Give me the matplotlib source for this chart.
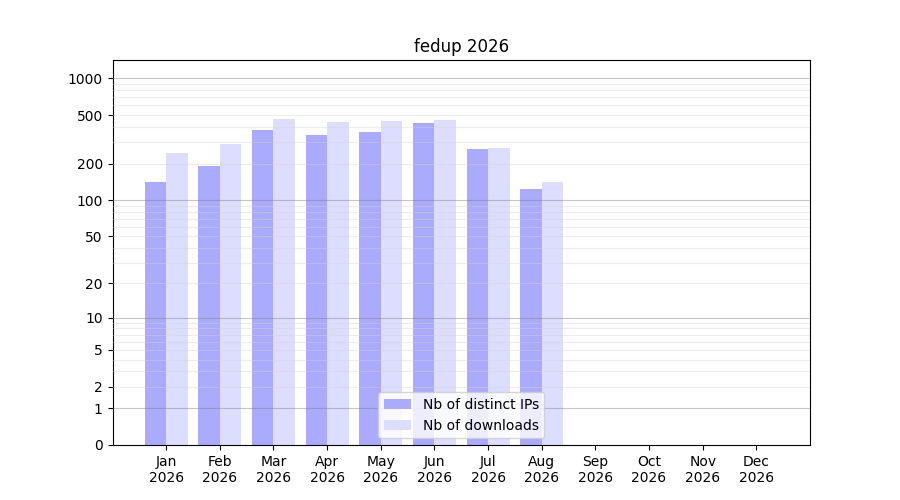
import numpy as np
import matplotlib
matplotlib.use("Agg")
import matplotlib.pyplot as plt

months = ["Jan", "Feb", "Mar", "Apr", "May", "Jun",
          "Jul", "Aug", "Sep", "Oct", "Nov", "Dec"]
year = "2026"
ips = [141, 191, 377, 343, 363, 431, 263, 123, 0, 0, 0, 0]
downloads = [244, 290, 465, 438, 447, 456, 268, 141, 0, 0, 0, 0]
yticks = [0, 1, 2, 5, 10, 20, 50, 100, 200, 500, 1000]

fig, ax = plt.subplots(figsize=(9, 5), dpi=100)
ax.set_yscale("function", functions=(lambda v: np.log10(1 + np.clip(v, 0, None)),
                                     lambda v: 10 ** v - 1))

x = np.arange(len(months))
ax.bar(x, ips, width=-0.4, align="edge", color="#aaaaff", label="Nb of distinct IPs", zorder=2)
ax.bar(x, downloads, width=0.4, align="edge", color="#ddddff", label="Nb of downloads", zorder=2)

# grid: decades darker, the rest light
for dec in [1, 10, 100, 1000]:
    ax.axhline(dec, color="gray", alpha=0.45, lw=0.8, zorder=3)
for dec in [1, 10, 100, 1000]:
    for m in range(2, 10):
        v = dec * m
        if v < 1400:
            ax.axhline(v, color="lightgray", alpha=0.4, lw=0.8, zorder=3)

ax.set_xlim(-1, 12)
ax.set_ylim(0, 1412)
ax.set_yticks(yticks)
ax.set_yticklabels([str(t) for t in yticks])
ax.minorticks_off()
ax.set_xticks(x)
ax.set_xticklabels([m + "\n" + year for m in months])
ax.set_title("fedup 2026")
ax.legend(loc="lower center")

fig.savefig("out.png")
